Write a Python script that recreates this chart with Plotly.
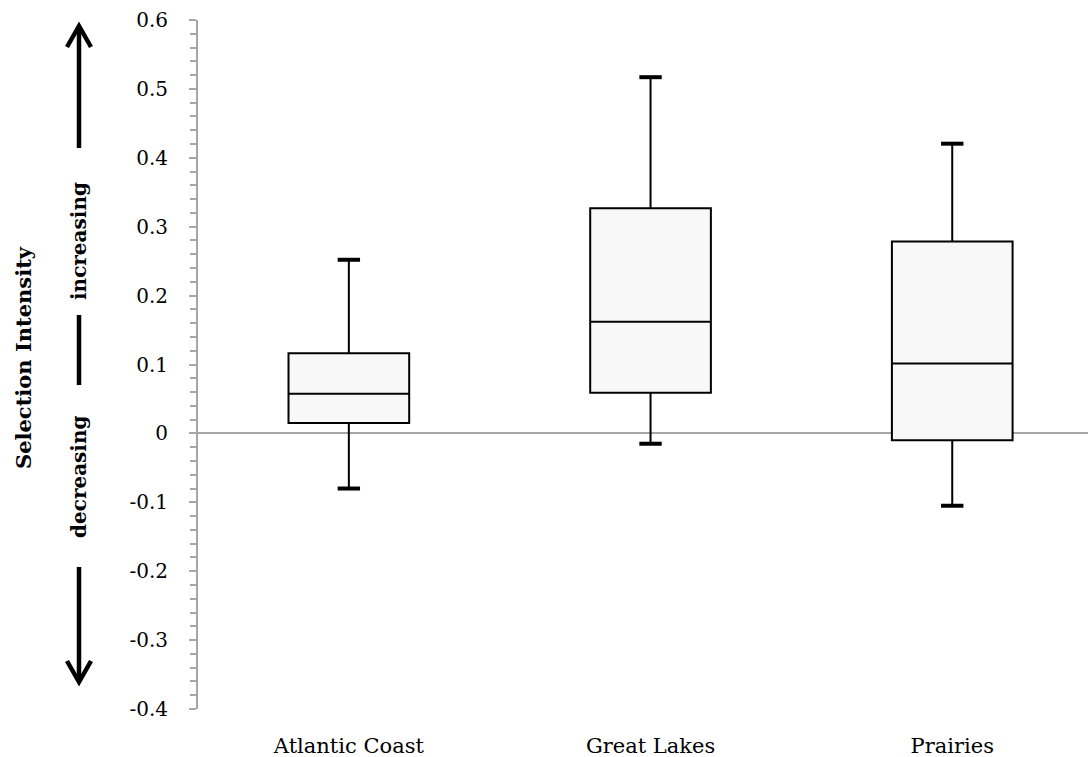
import plotly.graph_objects as go

# ---- data ----
regions = ["Atlantic Coast", "Great Lakes", "Prairies"]
lower_whisker = [-0.080, -0.015, -0.105]
q1_values = [0.015, 0.059, -0.010]
median_values = [0.0576, 0.162, 0.1016]
q3_values = [0.1165, 0.3266, 0.2787]
upper_whisker = [0.252, 0.517, 0.4205]

y_tick_values = [0.6, 0.5, 0.4, 0.3, 0.2, 0.1, 0.0, -0.1, -0.2, -0.3, -0.4]
y_tick_labels = ["0.6", "0.5", "0.4", "0.3", "0.2", "0.1", "0", "-0.1", "-0.2", "-0.3", "-0.4"]

# ---- layout geometry (pixels) ----
W, H = 1088, 757
L, R, T, B = 198, 0, 20, 48
PW = W - L - R
PH = H - T - B

def px(x):
    return (x - L) / PW

def py(y):
    return (H - B - y) / PH

SERIF = "DejaVu Serif"

fig = go.Figure()

fig.add_trace(go.Box(
    x=regions,
    q1=q1_values,
    median=median_values,
    q3=q3_values,
    lowerfence=lower_whisker,
    upperfence=upper_whisker,
    width=0.4,
    whiskerwidth=0,
    fillcolor="#f8f8f8",
    line=dict(color="black", width=2),
    boxpoints=False,
    showlegend=False,
    hoverinfo="skip",
))

# whisker caps
fig.add_trace(go.Scatter(
    x=regions + regions,
    y=upper_whisker + lower_whisker,
    mode="markers",
    marker=dict(symbol="line-ew", size=16, line=dict(color="black", width=4)),
    showlegend=False,
    hoverinfo="skip",
))

shapes = []
ax = 79
lw = 4.5
# top arrow shaft and head
shapes.append(dict(type="line", xref="paper", yref="paper",
                   x0=px(ax), x1=px(ax), y0=py(27), y1=py(148),
                   line=dict(color="black", width=lw)))
shapes.append(dict(type="path", xref="paper", yref="paper",
                   path=f"M {px(ax-12)},{py(47)} L {px(ax)},{py(26)} L {px(ax+12)},{py(47)}",
                   line=dict(color="black", width=lw)))
# middle bar
shapes.append(dict(type="line", xref="paper", yref="paper",
                   x0=px(ax), x1=px(ax), y0=py(315), y1=py(385),
                   line=dict(color="black", width=lw)))
# bottom arrow
shapes.append(dict(type="line", xref="paper", yref="paper",
                   x0=px(ax), x1=px(ax), y0=py(567), y1=py(681),
                   line=dict(color="black", width=lw)))
shapes.append(dict(type="path", xref="paper", yref="paper",
                   path=f"M {px(ax-12)},{py(661)} L {px(ax)},{py(682)} L {px(ax+12)},{py(661)}",
                   line=dict(color="black", width=lw)))

annotations = [
    dict(text="<b>Selection Intensity</b>", x=px(23), y=py(358), xref="paper", yref="paper",
         textangle=-90, showarrow=False, xanchor="center", yanchor="middle",
         font=dict(family=SERIF, size=21, color="black")),
    dict(text="<b>increasing</b>", x=px(79), y=py(241), xref="paper", yref="paper",
         textangle=-90, showarrow=False, xanchor="center", yanchor="middle",
         font=dict(family=SERIF, size=20, color="black")),
    dict(text="<b>decreasing</b>", x=px(79), y=py(477), xref="paper", yref="paper",
         textangle=-90, showarrow=False, xanchor="center", yanchor="middle",
         font=dict(family=SERIF, size=20, color="black")),
]

fig.update_layout(
    width=W, height=H,
    margin=dict(l=L, r=R, t=T, b=B, pad=0),
    paper_bgcolor="white",
    plot_bgcolor="white",
    shapes=shapes,
    annotations=annotations,
    xaxis=dict(
        type="category",
        range=[-0.5, 2.45],
        showline=False, showgrid=False, zeroline=False,
        ticks="",
        tickfont=dict(family=SERIF, size=21, color="black"),
        ticklabelstandoff=22,
    ),
    yaxis=dict(
        range=[-0.4, 0.6],
        tickvals=y_tick_values,
        ticktext=y_tick_labels,
        showgrid=False,
        showline=True, linecolor="#a6a6a6", linewidth=2,
        ticks="outside", ticklen=7, tickcolor="#a6a6a6", tickwidth=2,
        minor=dict(dtick=0.02, ticks="outside", ticklen=6, tickcolor="#a6a6a6", tickwidth=2, showgrid=False),
        zeroline=True, zerolinecolor="#a6a6a6", zerolinewidth=2,
        tickfont=dict(family=SERIF, size=20, color="black"),
        ticklabelstandoff=17,
    ),
)

fig.write_html("out.html")
